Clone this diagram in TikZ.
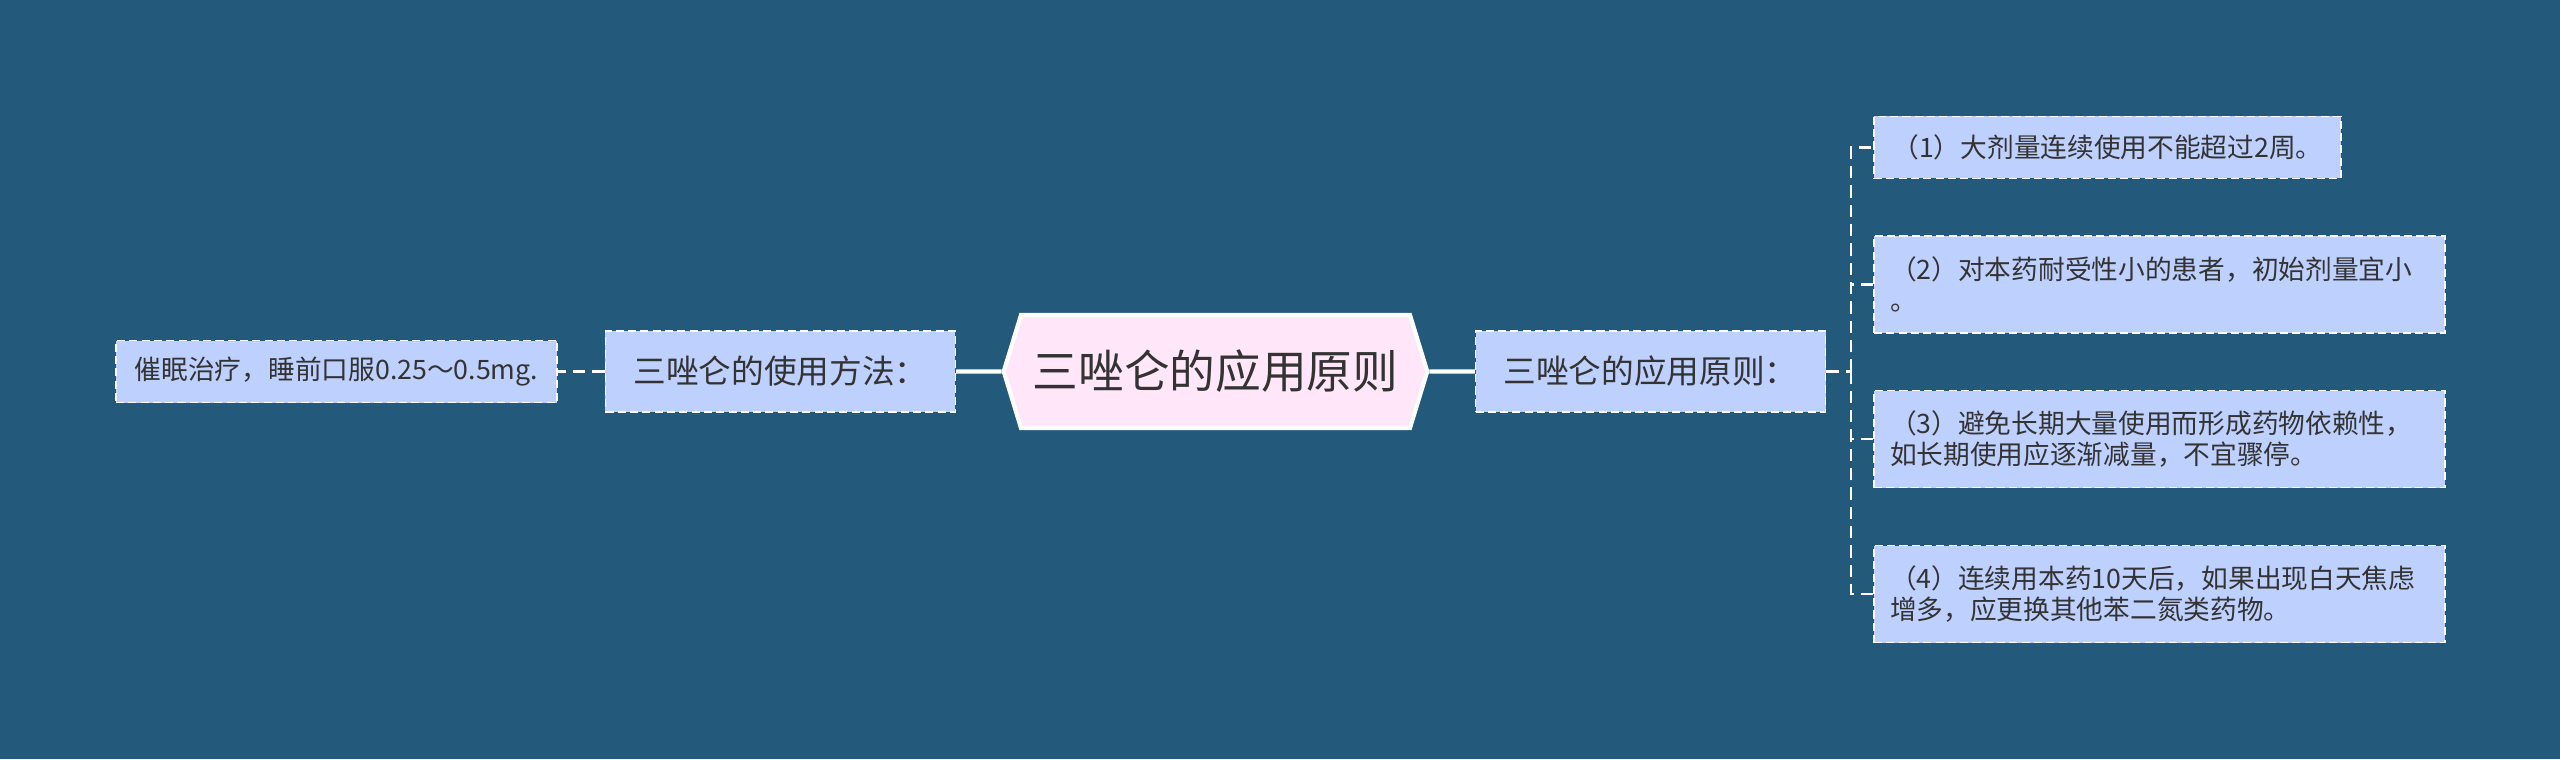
\documentclass[tikz,border=0pt]{standalone}
\usepackage{fontspec}
\setmainfont{Noto Sans CJK SC}
\usetikzlibrary{shapes.symbols,positioning}

\definecolor{bgblue}{RGB}{35,89,122}
\definecolor{rootpink}{RGB}{255,230,248}
\definecolor{boxblue}{RGB}{190,208,253}
\definecolor{inkgray}{RGB}{51,51,51}

\tikzstyle{hexa} = [signal, signal to=west and east, signal pointer angle=146, minimum width=4.05cm, minimum height=1.13cm, draw=white, line width=1.2pt, fill=rootpink, text=inkgray, font=\fontsize{13}{15}\selectfont]
\tikzstyle{mainbox} = [rectangle, minimum width=3.5cm, minimum height=0.81cm, draw=white, dash pattern=on 2.3pt off 1.2pt, fill=boxblue, text=inkgray, font=\fontsize{9.3}{11}\selectfont]
\tikzstyle{item} = [rectangle, minimum height=0.62cm, inner xsep=0.16cm, draw=white, dash pattern=on 2.3pt off 1.2pt, fill=boxblue, text=inkgray, font=\fontsize{7.6}{9}\selectfont]
\tikzstyle{longitem} = [item, text width=5.39cm, align=left, minimum height=0.97cm]
\tikzstyle{trunk} = [white, line width=1.2pt]
\tikzstyle{link} = [white, line width=0.6pt, dash pattern=on 3.5pt off 2pt]

\begin{document}
\begin{tikzpicture}[node distance=4.35cm]
\fill [bgblue] (-12.155,-3.875) rectangle (13.445,3.715);
\useasboundingbox (-12.155,-3.875) rectangle (13.445,3.715);

\node (root) [hexa] {三唑仑的应用原则};
\node (rmain) [mainbox, right of=root] {三唑仑的应用原则：};
\node (lmain) [mainbox, left of=root] {三唑仑的使用方法：};
\node (dose) [item, minimum width=4.41cm, left of=lmain, xshift=-0.09cm] {催眠治疗，睡前口服0.25～0.5mg.};

\node (rule1) [item, minimum width=4.67cm, right of=rmain, xshift=0.22cm, yshift=2.24cm] {（1）大剂量连续使用不能超过2周。};
\node (rule2) [longitem, right of=rmain, xshift=0.74cm, yshift=0.87cm] {（2）对本药耐受性小的患者，初始剂量宜小\\。};
\node (rule3) [longitem, right of=rmain, xshift=0.74cm, yshift=-0.675cm] {（3）避免长期大量使用而形成药物依赖性，\\如长期使用应逐渐减量，不宜骤停。};
\node (rule4) [longitem, right of=rmain, xshift=0.74cm, yshift=-2.225cm] {（4）连续用本药10天后，如果出现白天焦虑\\增多，应更换其他苯二氮类药物。};

\coordinate (fork) at ([xshift=0.25cm]rmain.east);

\draw [trunk] (root) -- (rmain);
\draw [trunk] (root) -- (lmain);
\draw [link] (lmain) -- (dose);
\draw [link] (rmain) -- (fork);
\draw [link] (fork) |- (rule1);
\draw [link] (fork) |- (rule2);
\draw [link] (fork) |- (rule3);
\draw [link] (fork) |- (rule4);
\end{tikzpicture}
\end{document}
